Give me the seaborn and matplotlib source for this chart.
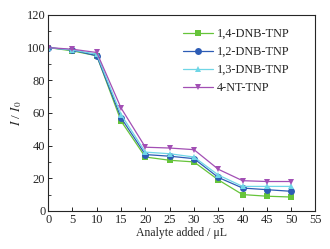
import matplotlib
matplotlib.use("Agg")
import matplotlib.pyplot as plt
import seaborn as sns
import pandas as pd
from matplotlib.ticker import MultipleLocator

volume = [0, 5, 10, 15, 20, 25, 30, 35, 40, 45, 50]
dnb14 = [100, 98, 95, 55, 33, 31, 30, 19, 10, 9, 8.5]
dnb12 = [100, 98.5, 95, 57, 34.5, 33.5, 32, 20.5, 14, 13, 12]
dnb13 = [100, 98.5, 96, 59, 36, 35, 33, 22, 15, 15, 15]
nt4 = [100, 99, 97, 63, 39, 38.5, 37.5, 25.5, 18.5, 18, 18]

names = ["1,4-DNB-TNP", "1,2-DNB-TNP", "1,3-DNB-TNP", "4-NT-TNP"]
series = [dnb14, dnb12, dnb13, nt4]
colors = ["#66c43a", "#2d5cb5", "#6fd6e6", "#a24fb4"]
markers = ["s", "o", "^", "v"]

rows = []
for n, s in zip(names, series):
    for v, y in zip(volume, s):
        rows.append({"vol": v, "val": y, "name": n})
df = pd.DataFrame(rows)

sns.set_style("ticks")
plt.rcParams["font.family"] = ["Liberation Serif", "DejaVu Serif"]
plt.rcParams["mathtext.fontset"] = "stix"

fig = plt.figure(figsize=(3.3, 2.49), dpi=100)
ax = fig.add_axes([0.146, 0.153, 0.81, 0.787])
for n, c, m in zip(names, colors, markers):
    d = df[df["name"] == n]
    sns.lineplot(data=d, x="vol", y="val", ax=ax, color=c, marker=m,
                 markersize=5, markeredgewidth=0, linewidth=0.9, label=n)

ax.set_xlim(0, 55)
ax.set_ylim(0, 120)
ax.xaxis.set_major_locator(MultipleLocator(5))
ax.yaxis.set_major_locator(MultipleLocator(20))
ax.yaxis.set_minor_locator(MultipleLocator(10))
ax.tick_params(direction="in", labelsize=9, length=3, width=0.7, pad=2)
ax.tick_params(which="minor", direction="in", length=2, width=0.6)
for sp in ax.spines.values():
    sp.set_linewidth(0.8)
ax.set_xlabel("Analyte added / μL", fontsize=8.5, labelpad=1)
ax.set_ylabel("$I$ / $I_0$", fontsize=9.5, labelpad=2)
ax.legend(loc="upper left", bbox_to_anchor=(0.465, 0.99), frameon=False,
          fontsize=8.8, handlelength=2.4, handletextpad=0.3, labelspacing=0.5)

fig.savefig("out.png", dpi=100)
